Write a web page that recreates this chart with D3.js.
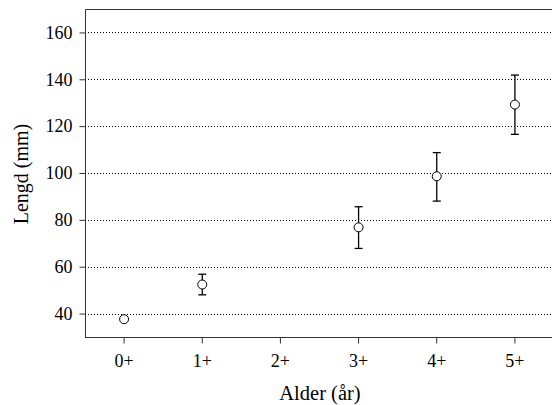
<!DOCTYPE html>
<html><head><meta charset="utf-8">
<script src="https://cdn.jsdelivr.net/npm/d3@7"></script>
<style>body{margin:0;background:#fff}svg{display:block}svg text{font-family:"Liberation Serif",serif !important;fill:#000 !important}</style>
</head><body>
<script>
const categories = ["0+","1+","2+","3+","4+","5+"];
const means = [37.6, 52.4, null, 76.8, 98.6, 129.2];
const upper = [null, 56.8, null, 85.6, 108.7, 141.8];
const lower = [null, 48.0, null, 67.8, 88.0, 116.5];
const yTicks = [40, 60, 80, 100, 120, 140, 160];

const W = 552, H = 405;
const m = {left: 85, top: 9, right: -2, bottom: 68};
const svg = d3.select("body").append("svg").attr("width", W).attr("height", H);
const x = d3.scaleBand().domain(categories).range([m.left, W - m.right]);
const y = d3.scaleLinear().domain([30, 170]).range([H - m.bottom, m.top]);
const cx = c => x(c) + x.bandwidth() / 2;

// grid
svg.append("g").selectAll("line").data(yTicks).join("line")
  .attr("x1", m.left).attr("x2", W).attr("y1", d => Math.round(y(d)) + 0.5).attr("y2", d => Math.round(y(d)) + 0.5)
  .attr("stroke", "#000").attr("stroke-width", 1).attr("stroke-dasharray", "1,2");

// frame
const y0 = Math.round(y(30)) + 0.5, yTop = Math.round(y(170)) + 0.5;
svg.append("line").attr("x1", m.left + 0.5).attr("x2", W).attr("y1", yTop).attr("y2", yTop).attr("stroke", "#333");

// axes
const yAxis = d3.axisLeft(y).tickValues(yTicks).tickSize(6).tickPadding(7);
const gy = svg.append("g").attr("transform", `translate(${m.left + 0.5},0)`).call(yAxis);
const xAxis = d3.axisBottom(x).tickSize(6).tickPadding(11);
const gx = svg.append("g").attr("transform", `translate(0,${y0})`).call(xAxis);
[gy, gx].forEach(g => {
  g.attr("font-family", "Liberation Serif").attr("font-size", 18);
  g.select(".domain").attr("stroke", "#333");
  g.selectAll(".tick line").attr("stroke", "#333");
  g.selectAll("text").style("font-size", "18px").attr("fill", "#000");
});
gy.select(".domain").attr("d", `M0,${yTop}V${y0}`);
gx.select(".domain").attr("d", `M${m.left},0H${W}`);

// error bars
const eb = categories.map((c, i) => ({c, m: means[i], u: upper[i], l: lower[i]})).filter(d => d.u != null);
const g = svg.append("g").attr("stroke", "#000").attr("stroke-width", 1.3);
g.selectAll(".v").data(eb).join("line")
  .attr("x1", d => cx(d.c)).attr("x2", d => cx(d.c)).attr("y1", d => y(d.u)).attr("y2", d => y(d.l));
g.selectAll(".t").data(eb).join("line")
  .attr("x1", d => cx(d.c) - 4).attr("x2", d => cx(d.c) + 4).attr("y1", d => y(d.u)).attr("y2", d => y(d.u));
g.selectAll(".b").data(eb).join("line")
  .attr("x1", d => cx(d.c) - 4).attr("x2", d => cx(d.c) + 4).attr("y1", d => y(d.l)).attr("y2", d => y(d.l));

// points
const pts = categories.map((c, i) => ({c, v: means[i]})).filter(d => d.v != null);
svg.append("g").selectAll("circle").data(pts).join("circle")
  .attr("cx", d => cx(d.c)).attr("cy", d => y(d.v)).attr("r", 4.5)
  .attr("fill", "#fff").attr("stroke", "#000").attr("stroke-width", 1);

// titles
svg.append("text").attr("x", 320).attr("y", 399.5).attr("text-anchor", "middle").style("font-size", "20.5px").text("Alder (år)");
svg.append("text").attr("transform", `translate(28,174) rotate(-90)`).attr("text-anchor", "middle").style("font-size", "20px").text("Lengd (mm)");
</script>
</body></html>
